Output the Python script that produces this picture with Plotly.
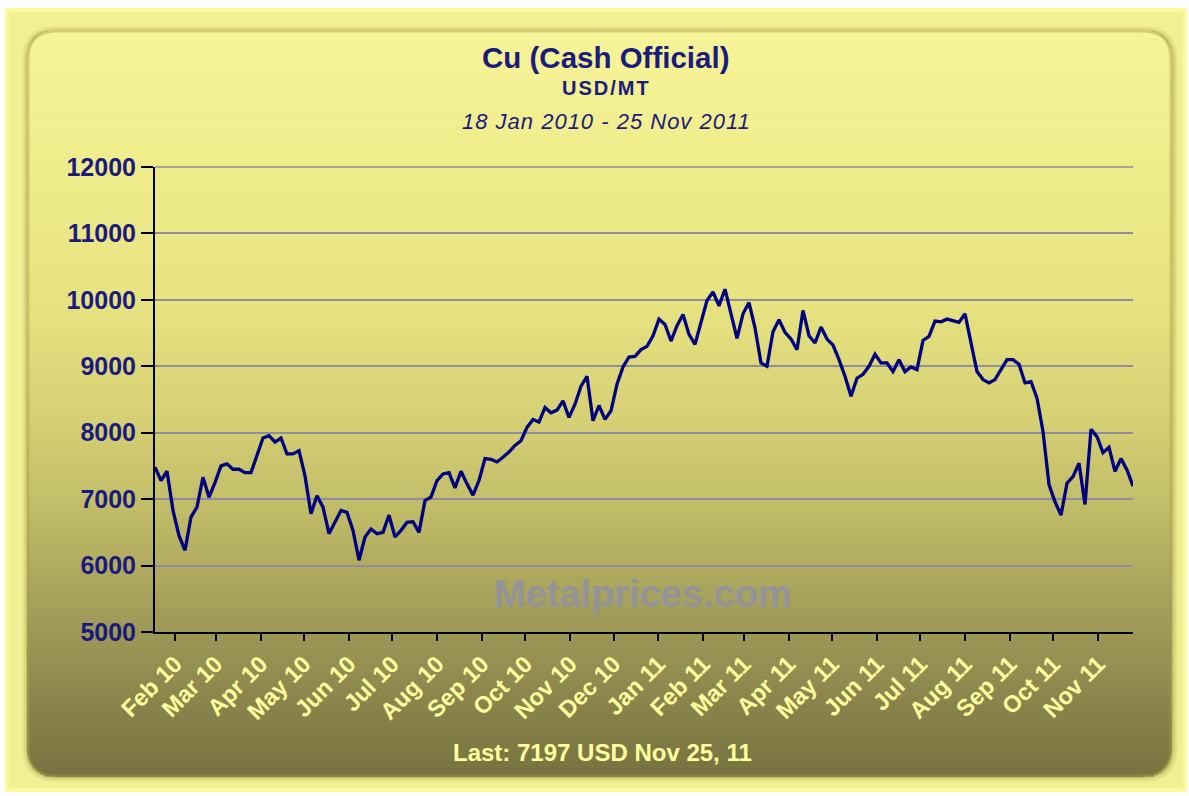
import math
import pandas as pd
import plotly.graph_objects as go

# ---------------- data ----------------
start_date = "2010-01-18"
end_date = "2011-11-25"
prices = [
    7480, 7280, 7420, 6830, 6450, 6230, 6730, 6880, 7330, 7030,
    7250, 7500, 7530, 7450, 7450, 7400, 7400, 7650, 7920, 7955,
    7860, 7920, 7680, 7680, 7730, 7350, 6780, 7050, 6880, 6480,
    6650, 6830, 6800, 6530, 6080, 6430, 6550, 6480, 6500, 6760,
    6430, 6530, 6650, 6660, 6500, 6980, 7030, 7280, 7380, 7400,
    7170, 7420, 7230, 7060, 7280, 7610, 7600, 7560, 7630, 7710,
    7810, 7880, 8080, 8200, 8160, 8380, 8300, 8340, 8480, 8230,
    8430, 8700, 8850, 8180, 8410, 8200, 8330, 8730, 8990, 9140,
    9150, 9250, 9300, 9460, 9710, 9630, 9380, 9610, 9780, 9480,
    9330, 9660, 9990, 10120, 9910, 10160, 9810, 9420, 9790, 9960,
    9580, 9050, 9000, 9520, 9700, 9510, 9410, 9250, 9840, 9460,
    9350, 9590, 9410, 9320, 9100, 8850, 8550, 8820, 8880, 9000,
    9180, 9050, 9050, 8920, 9100, 8920, 8990, 8950, 9390, 9450,
    9680, 9670, 9710, 9690, 9660, 9790, 9330, 8920, 8800, 8750,
    8800, 8950, 9100, 9100, 9030, 8750, 8770, 8520, 8020, 7220,
    6960, 6760, 7240, 7340, 7540, 6920, 8050, 7940, 7700, 7780,
    7420, 7610, 7440, 7197,
]
y_ticks = [5000, 6000, 7000, 8000, 9000, 10000, 11000, 12000]
first_tick = "2010-02-01"
title_text = "Cu (Cash Official)"
unit_text = "USD/MT"
period_text = "18 Jan 2010 - 25 Nov 2011"
last_text = "Last: 7197 USD Nov 25, 11"
watermark_text = "Metalprices.com"

dates = pd.date_range(start_date, end_date, periods=len(prices))

# ---------------- layout geometry ----------------
W, H = 1189, 796
ML, MR, MT, MB = 155, 56, 167, 164
PW, PH = W - ML - MR, H - MT - MB


def px(X):
    return (X - ML) / PW


def py(Y):
    return (H - MB - Y) / PH


NAVY = "#1b1b7d"
LIGHT = "#FFFF9E"

shapes = []

# outer bright frame
shapes.append(dict(type="rect", xref="paper", yref="paper", layer="below",
                   x0=px(5), x1=px(1187), y0=py(8), y1=py(792),
                   fillcolor="#FBF99B", line=dict(width=0)))
shapes.append(dict(type="rect", xref="paper", yref="paper", layer="below",
                   x0=px(9), x1=px(1183), y0=py(12), y1=py(788),
                   fillcolor="#F2F094", line=dict(width=0)))


def rounded_path(X0, Y0, X1, Y1, r):
    a, b, c, d = px(X0), px(X1), py(Y0), py(Y1)
    rx, ry = r / PW, r / PH
    return (f"M {a+rx},{c} L {b-rx},{c} Q {b},{c} {b},{c-ry} "
            f"L {b},{d+ry} Q {b},{d} {b-rx},{d} L {a+rx},{d} "
            f"Q {a},{d} {a},{d+ry} L {a},{c-ry} Q {a},{c} {a+rx},{c} Z")


# soft shadow around panel
for k, op in [(7, 0.10), (5, 0.14), (3, 0.2)]:
    shapes.append(dict(type="path", xref="paper", yref="paper", layer="below",
                       path=rounded_path(27 - k + 2, 30 - k + 3, 1172 + k - 1, 777 + k - 2, 28 + k),
                       fillcolor=f"rgba(150,140,60,{op})", line=dict(width=0)))

# vertical gradient of the panel (bands)
stops = [(30, (246, 244, 152)), (150, (240, 237, 141)), (300, (231, 227, 129)),
         (420, (213, 208, 116)), (520, (190, 185, 102)), (620, (160, 155, 88)),
         (700, (139, 133, 76)), (777, (120, 114, 64))]


def col_at(Y):
    for (y0, c0), (y1, c1) in zip(stops[:-1], stops[1:]):
        if y0 <= Y <= y1:
            t = (Y - y0) / (y1 - y0)
            return tuple(round(c0[i] + (c1[i] - c0[i]) * t) for i in range(3))
    return stops[-1][1] if Y > stops[-1][0] else stops[0][1]


PX0, PX1, PY0, PY1, RR = 27, 1172, 30, 777, 28
Y = PY0
step = 2
while Y < PY1:
    yc = Y + step / 2
    inset = 0
    if yc < PY0 + RR:
        dy = PY0 + RR - yc
        inset = RR - math.sqrt(max(RR * RR - dy * dy, 0))
    elif yc > PY1 - RR:
        dy = yc - (PY1 - RR)
        inset = RR - math.sqrt(max(RR * RR - dy * dy, 0))
    c = col_at(yc)
    shapes.append(dict(type="rect", xref="paper", yref="paper", layer="below",
                       x0=px(PX0 + inset), x1=px(PX1 - inset),
                       y0=py(Y), y1=py(min(Y + step + 0.6, PY1)),
                       fillcolor=f"rgb{c}", line=dict(width=0)))
    Y += step

# rim of panel
shapes.append(dict(type="path", xref="paper", yref="paper", layer="below",
                   path=rounded_path(PX0 + 1, PY0 + 1, PX1 - 1, PY1 - 1, RR),
                   fillcolor="rgba(0,0,0,0)",
                   line=dict(color="rgba(170,160,70,0.45)", width=3)))

# top grid line of the plot area (12000)
shapes.append(dict(type="line", xref="paper", yref="paper", layer="above",
                   x0=0, x1=1, y0=1, y1=1,
                   line=dict(color="#8E8E9C", width=1.5)))

fig = go.Figure()
fig.add_trace(go.Scatter(x=dates, y=prices, mode="lines",
                         line=dict(color="#000080", width=3.3),
                         hoverinfo="skip", showlegend=False))

annotations = [
    dict(text=title_text, x=px(606), y=py(57),
         font=dict(family="Liberation Sans", size=29.5, color=NAVY, weight="bold")),
    dict(text=f'<span style="letter-spacing:2px">{unit_text}</span>', x=px(606), y=py(88),
         font=dict(family="Liberation Sans", size=20, color=NAVY, weight="bold")),
    dict(text=f'<span style="letter-spacing:1px">{period_text}</span>', x=px(606), y=py(121),
         font=dict(family="Liberation Sans", size=22, color=NAVY, style="italic")),
    dict(text=last_text, x=px(602), y=py(752),
         font=dict(family="Liberation Sans", size=24, color=LIGHT, weight="bold")),
    dict(text=watermark_text, x=px(643), y=py(594),
         font=dict(family="Liberation Sans", size=38, color="#939398", weight="bold")),
]
for a in annotations:
    a.update(xref="paper", yref="paper", showarrow=False,
             xanchor="center", yanchor="middle")

fig.update_layout(
    width=W, height=H,
    margin=dict(l=ML, r=MR, t=MT, b=MB, pad=0),
    paper_bgcolor="white",
    plot_bgcolor="#C8C4E1",
    shapes=shapes,
    annotations=annotations,
    showlegend=False,
    xaxis=dict(
        type="date", range=[start_date, end_date],
        tick0=first_tick, dtick="M1", tickformat="%b %y",
        tickangle=-45, ticks="outside", ticklen=7, tickwidth=2, tickcolor="black",
        showline=True, linecolor="black", linewidth=2, showgrid=False, zeroline=False,
        tickfont=dict(family="Liberation Sans", size=23.5, color=LIGHT, weight="bold"),
    ),
    yaxis=dict(
        range=[y_ticks[0], y_ticks[-1]], tickvals=y_ticks, tickformat="d",
        ticks="outside", ticklen=12, tickwidth=2, tickcolor="black",
        showline=True, linecolor="black", linewidth=2,
        showgrid=True, gridcolor="#8E8E9C", gridwidth=1.5, zeroline=False,
        tickfont=dict(family="Liberation Sans", size=25, color=NAVY, weight="bold"),
    ),
)

fig.write_html("out.html")
